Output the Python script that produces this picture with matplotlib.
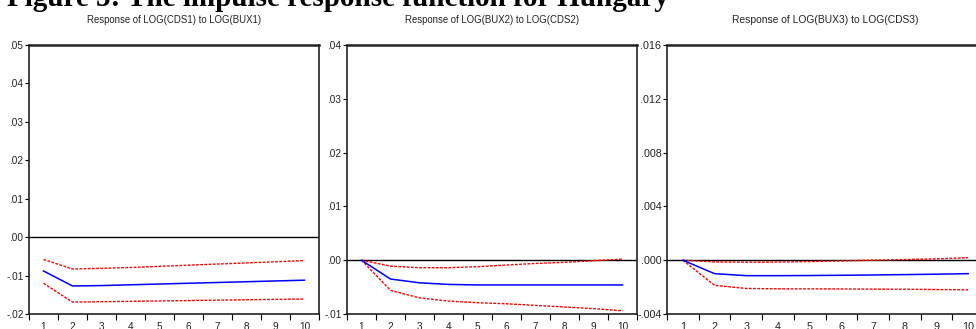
import matplotlib
matplotlib.use("Agg")
import matplotlib.pyplot as plt
from matplotlib import font_manager
from matplotlib.ticker import FuncFormatter, FixedLocator

periods = [1, 2, 3, 4, 5, 6, 7, 8, 9, 10]

titles = [
    "Response of LOG(CDS1) to LOG(BUX1)",
    "Response of LOG(BUX2) to LOG(CDS2)",
    "Response of LOG(BUX3) to LOG(CDS3)",
]

# panel 1: LOG(CDS1) to LOG(BUX1)
cds1_resp = [-0.0088, -0.0127, -0.0126, -0.0124, -0.0122, -0.0120, -0.0118, -0.0116, -0.0114, -0.0112]
cds1_upper = [-0.0058, -0.0083, -0.0081, -0.0079, -0.0076, -0.0073, -0.0070, -0.0067, -0.0064, -0.0061]
cds1_lower = [-0.0120, -0.0169, -0.0168, -0.0167, -0.0166, -0.0165, -0.0164, -0.0163, -0.0162, -0.0161]

# panel 2: LOG(BUX2) to LOG(CDS2)
bux2_resp = [0.0, -0.0035, -0.0042, -0.0045, -0.0046, -0.0046, -0.0046, -0.0046, -0.0046, -0.0046]
bux2_upper = [0.0, -0.0011, -0.0014, -0.0014, -0.0012, -0.0009, -0.0006, -0.0004, -0.0001, 0.0002]
bux2_lower = [0.0, -0.0056, -0.0070, -0.0076, -0.0079, -0.0081, -0.0084, -0.0087, -0.0090, -0.0094]

# panel 3: LOG(BUX3) to LOG(CDS3)
bux3_resp = [0.0, -0.0010, -0.00115, -0.00115, -0.00114, -0.00112, -0.0011, -0.00107, -0.00104, -0.0010]
bux3_upper = [0.0, -0.00013, -0.00015, -0.00014, -0.0001, -0.00005, 0.0, 0.00005, 0.0001, 0.00019]
bux3_lower = [0.0, -0.00187, -0.0021, -0.00213, -0.00213, -0.00214, -0.00215, -0.00216, -0.00218, -0.0022]

y_ticks = [
    [-0.02, -0.01, 0.0, 0.01, 0.02, 0.03, 0.04, 0.05],
    [-0.01, 0.0, 0.01, 0.02, 0.03, 0.04],
    [-0.004, 0.0, 0.004, 0.008, 0.012, 0.016],
]
y_decimals = [2, 2, 3]

panels = [
    (cds1_resp, cds1_upper, cds1_lower),
    (bux2_resp, bux2_upper, bux2_lower),
    (bux3_resp, bux3_upper, bux3_lower),
]

names = {f.name for f in font_manager.fontManager.ttflist}
narrow = "Liberation Sans Narrow" if "Liberation Sans Narrow" in names else "Liberation Sans"

W, H = 976, 329
fig = plt.figure(figsize=(W / 100, H / 100), dpi=100)

# axes boxes in pixels: left, right
boxes = [(29, 319), (347, 637), (667, 984)]
top, bottom = 45, 314


def eviews_fmt(dec):
    def f(v, pos):
        s = f"{v:.{dec}f}"
        if s.startswith("-0"):
            s = "-" + s[2:]
        elif s.startswith("0"):
            s = s[1:]
        return s
    return f


for i, ((l, r), (resp, up, lo)) in enumerate(zip(boxes, panels)):
    ax = fig.add_axes([l / W, (H - bottom) / H, (r - l) / W, (bottom - top) / H])
    scale = 1.0 if i < 2 else 1.07
    ax.axhline(0, color="black", lw=1.0, zorder=1)
    ax.plot(periods, resp, color="#0000ff", lw=1.1, zorder=3)
    ax.plot(periods, up, color="#ff0000", lw=1.0, ls=(0, (2, 1)), zorder=2)
    ax.plot(periods, lo, color="#ff0000", lw=1.0, ls=(0, (2, 1)), zorder=2)

    ax.set_xlim(0.5, 10.5)
    ax.set_ylim(y_ticks[i][0], y_ticks[i][-1])
    ax.xaxis.set_major_locator(FixedLocator([p + 0.5 for p in range(11)]))
    ax.xaxis.set_major_formatter(FuncFormatter(lambda v, pos: ""))
    ax.xaxis.set_minor_locator(FixedLocator(periods))
    ax.xaxis.set_minor_formatter(FuncFormatter(lambda v, pos: f"{int(round(v))}"))
    ax.tick_params(axis="x", which="major", direction="out", length=4, width=0.8)
    ax.tick_params(axis="x", which="minor", length=0, pad=6,
                   labelsize=7.2 * scale)
    ax.set_yticks(y_ticks[i])
    ax.yaxis.set_major_formatter(FuncFormatter(eviews_fmt(y_decimals[i])))
    ax.tick_params(axis="y", direction="out", length=3, width=0.8, pad=1,
                   labelsize=7.2 * scale)
    for lab in ax.get_xticklabels(minor=True) + ax.get_yticklabels():
        lab.set_family(narrow)
        lab.set_color("#222222")

    for side in ["left", "right", "bottom"]:
        ax.spines[side].set_linewidth(1.2)
        ax.spines[side].set_color("#222222")
    ax.spines["top"].set_linewidth(1.8)
    ax.spines["top"].set_color("#222222")

    fig.text((l + r) / 2 / W, 1 - 23 / H, titles[i], ha="center", va="baseline",
             fontsize=6.9 * scale, family=narrow, color="#222222")

fig.text(7 / W, 1 - 6 / H, "Figure 5: The impulse response function for Hungary",
         ha="left", va="baseline", fontsize=21, fontweight="bold",
         family="Liberation Serif", color="black")

fig.savefig("out.png", dpi=100)
